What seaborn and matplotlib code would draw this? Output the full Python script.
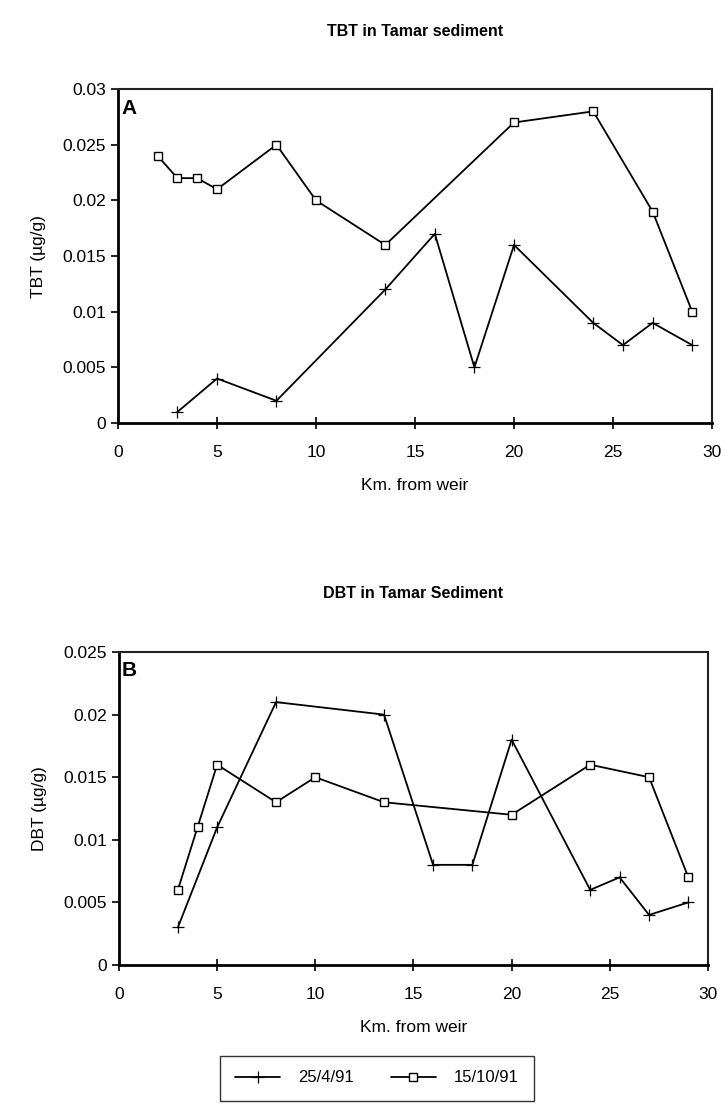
import matplotlib
matplotlib.use("Agg")
import matplotlib.pyplot as plt
import seaborn as sns
import pandas as pd
from matplotlib.lines import Line2D

# TBT in Tamar sediment
tbt_apr_km = [3, 5, 8, 13.5, 16, 18, 20, 24, 25.5, 27, 29]
tbt_apr = [0.001, 0.004, 0.002, 0.012, 0.017, 0.005, 0.016, 0.009, 0.007, 0.009, 0.007]
tbt_oct_km = [2, 3, 4, 5, 8, 10, 13.5, 20, 24, 27, 29]
tbt_oct = [0.024, 0.022, 0.022, 0.021, 0.025, 0.020, 0.016, 0.027, 0.028, 0.019, 0.010]

# DBT in Tamar sediment
dbt_apr_km = [3, 5, 8, 13.5, 16, 18, 20, 24, 25.5, 27, 29]
dbt_apr = [0.003, 0.011, 0.021, 0.020, 0.008, 0.008, 0.018, 0.006, 0.007, 0.004, 0.005]
dbt_oct_km = [3, 4, 5, 8, 10, 13.5, 20, 24, 27, 29]
dbt_oct = [0.006, 0.011, 0.016, 0.013, 0.015, 0.013, 0.012, 0.016, 0.015, 0.007]

series_names = ["25/4/91", "15/10/91"]
y_ticks_tbt = [0, 0.005, 0.01, 0.015, 0.02, 0.025, 0.03]
y_ticks_dbt = [0, 0.005, 0.01, 0.015, 0.02, 0.025]
x_ticks = [0, 5, 10, 15, 20, 25, 30]

sns.set_theme(style="white")
plt.rcParams["font.family"] = ["Liberation Sans", "DejaVu Sans"]
plt.rcParams["text.color"] = "black"
plt.rcParams["axes.labelcolor"] = "black"

fig = plt.figure(figsize=(7.25, 11.04), dpi=100)
ax1 = fig.add_axes([0.1628, 0.6168, 0.8193, 0.3025])
ax2 = fig.add_axes([0.1641, 0.1259, 0.8124, 0.2835])


def draw_panel(ax, apr_km, apr, oct_km, oct_vals, yticks, ylabel, letter):
    d_apr = pd.DataFrame({"km": apr_km, "val": apr})
    d_oct = pd.DataFrame({"km": oct_km, "val": oct_vals})
    sns.lineplot(data=d_apr, x="km", y="val", ax=ax, color="black", lw=1.3,
                 marker="+", markersize=8, markeredgewidth=0.9,
                 markeredgecolor="black", sort=False, estimator=None)
    sns.lineplot(data=d_oct, x="km", y="val", ax=ax, color="black", lw=1.3,
                 marker="s", markersize=6, markerfacecolor="white",
                 markeredgecolor="black", markeredgewidth=1.0,
                 sort=False, estimator=None)
    ax.set_xlim(0, 30)
    ax.set_ylim(yticks[0], yticks[-1])
    ax.set_xticks(x_ticks)
    ax.set_yticks(yticks)
    ax.set_yticklabels([f"{t:g}" for t in yticks])
    ax.tick_params(axis="both", labelsize=12.5, colors="black", length=5, width=1.2,
                   left=True, bottom=True)
    ax.tick_params(axis="x", direction="inout", length=8, pad=12)
    ax.tick_params(axis="y", direction="out")
    for side in ["left", "bottom"]:
        ax.spines[side].set_linewidth(2.0)
        ax.spines[side].set_color("black")
    for side in ["top", "right"]:
        ax.spines[side].set_linewidth(1.5)
        ax.spines[side].set_color("#222222")
    ax.set_xlabel("Km. from weir", fontsize=12.5, labelpad=13)
    ax.set_ylabel(ylabel, fontsize=12.5, labelpad=12)
    ax.text(0.005, 0.97, letter, transform=ax.transAxes, fontsize=15,
            fontweight="bold", va="top", ha="left", color="black")


draw_panel(ax1, tbt_apr_km, tbt_apr, tbt_oct_km, tbt_oct, y_ticks_tbt, "TBT (µg/g)", "A")
draw_panel(ax2, dbt_apr_km, dbt_apr, dbt_oct_km, dbt_oct, y_ticks_dbt, "DBT (µg/g)", "B")

fig.text(415 / 725, 1 - 31 / 1104, "TBT in Tamar sediment", ha="center", va="center",
         fontsize=11.5, fontweight="bold")
fig.text(413 / 725, 1 - 593 / 1104, "DBT in Tamar Sediment", ha="center", va="center",
         fontsize=11.5, fontweight="bold")

handles = [
    Line2D([], [], color="black", lw=1.3, marker="+", markersize=8, markeredgewidth=0.9),
    Line2D([], [], color="black", lw=1.3, marker="s", markersize=6,
           markerfacecolor="white", markeredgewidth=1.0),
]
leg = fig.legend(handles, series_names, loc="center", ncol=2,
                 bbox_to_anchor=(377 / 725, 1 - 1078 / 1104), frameon=True,
                 fancybox=False, edgecolor="black", fontsize=12, handlelength=2.7,
                 handletextpad=1.1, columnspacing=2.2, borderpad=0.9)
leg.get_frame().set_linewidth(1.0)

fig.savefig("out.png", dpi=100)
